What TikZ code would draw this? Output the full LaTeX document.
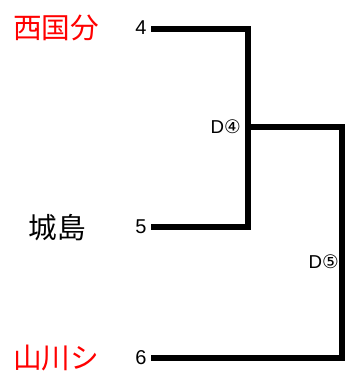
\documentclass[tikz,border=0pt]{standalone}
\usepackage{fontspec}
\setmainfont{Liberation Sans}
\newfontfamily\cjk{Noto Sans CJK JP}
\newfontfamily\dejavu{DejaVu Sans}
\definecolor{tred}{RGB}{255,0,0}
\begin{document}
\begin{tikzpicture}[x=0.75pt,y=-0.75pt,
  team/.style={font=\cjk\fontsize{21.5}{21.5}\selectfont, inner sep=0pt},
  seed/.style={font=\fontsize{15}{15}\selectfont, inner sep=0pt},
  game/.style={font=\fontsize{14}{14}\selectfont, inner sep=0pt, anchor=east},
  bline/.style={line width=4.5pt, line cap=rect, line join=miter}]
\useasboundingbox (0,0) rectangle (344,372);
\node[team, text=tred] (t1) at (56,28) {西国分};
\node[team] (t2) at (57,228) {城島};
\node[team, text=tred] (t3) at (56,358) {山川シ};
\node[seed] (s1) at (141,28) {4};
\node[seed] (s2) at (141,227) {5};
\node[seed] (s3) at (141,358) {6};
\coordinate (a1) at (154,28.5);
\coordinate (a2) at (154,226.5);
\coordinate (a3) at (154,358);
\coordinate (j1) at (248,127);
\coordinate (j2) at (342,127);
\node[game] (g1) at (241,127) {D{\dejavu ④}};
\node[game] (g2) at (339,262) {D{\dejavu ⑤}};
\draw[bline] (a1) -| (j1) |- (a2);
\draw[bline] (j1) -- (j2) |- (a3);
\end{tikzpicture}
\end{document}
